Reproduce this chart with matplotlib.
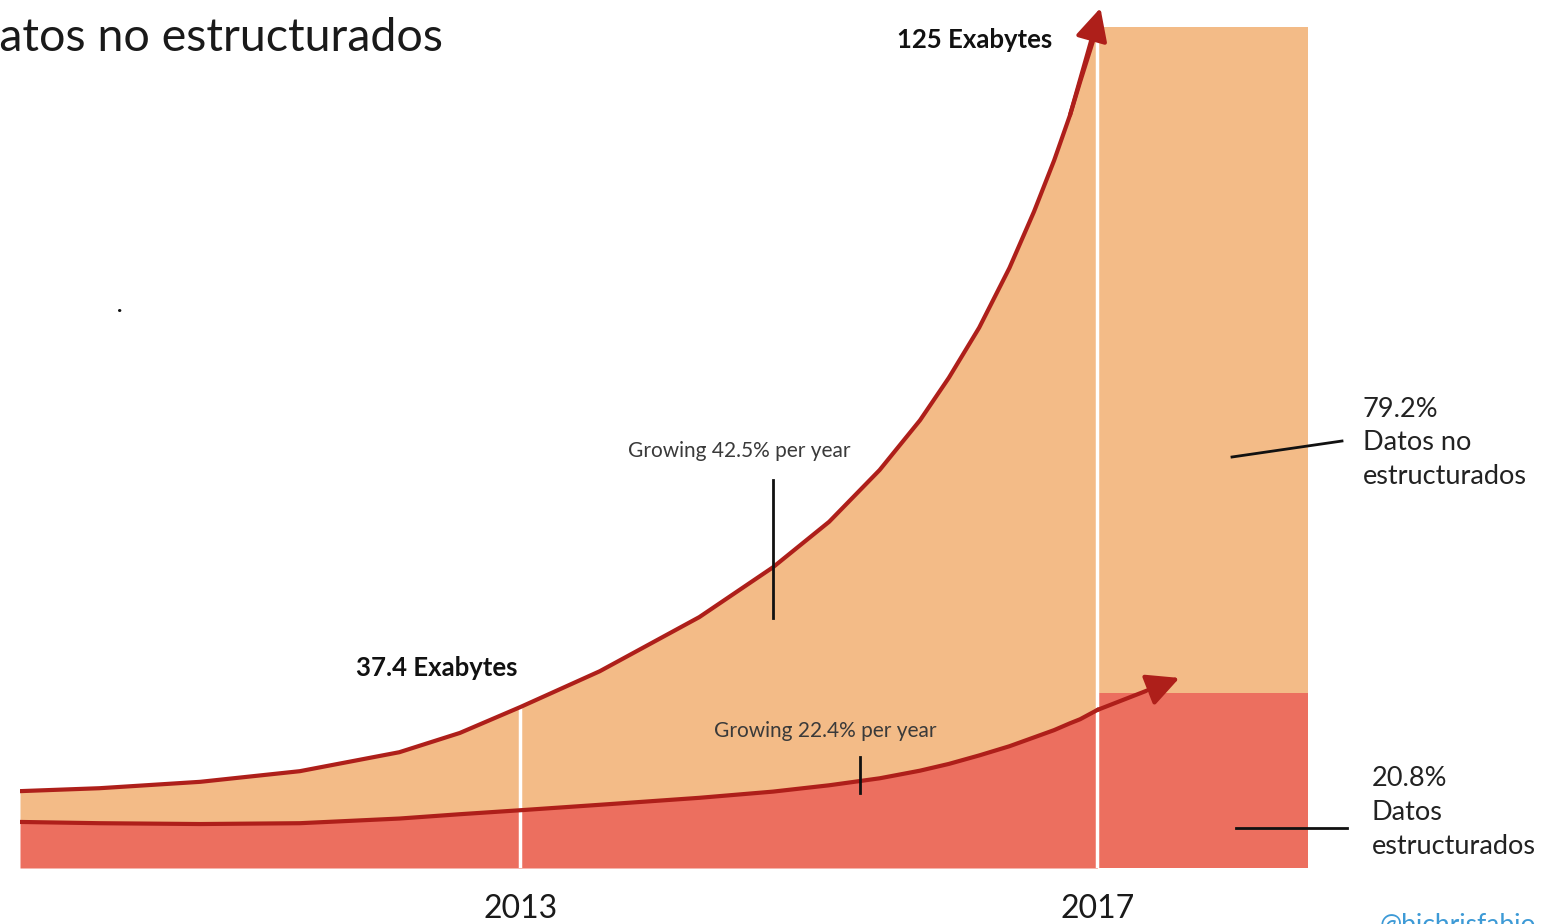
import numpy as np
import matplotlib
matplotlib.use("Agg")
import matplotlib.pyplot as plt
from matplotlib.scale import FuncScale
from matplotlib.transforms import offset_copy

plt.rcParams['font.family'] = ['Lato', 'DejaVu Sans']

# ---- data -------------------------------------------------------------
years = [2009.53, 2010.08, 2010.78, 2011.47, 2012.16, 2012.58, 2013.0, 2013.55,
         2014.24, 2014.75, 2015.14, 2015.49, 2015.77, 2015.97, 2016.18, 2016.39,
         2016.56, 2016.70, 2016.81, 2016.88, 2017.0]
# total data volume (Exabytes)
total_eb = [21.8, 22.4, 23.7, 25.8, 29.4, 32.9, 37.4, 43.3, 51.7, 59.0, 65.4,
            72.4, 78.9, 84.3, 90.5, 97.7, 104.3, 110.2, 115.3, 119.0, 125.0]
# structured part (Exabytes)
structured_eb = [15.0, 14.7, 14.5, 14.7, 15.8, 16.8, 17.7, 18.9, 20.4, 21.7, 23.0,
                 24.4, 25.9, 27.2, 28.8, 30.5, 32.1, 33.4, 34.6, 35.3, 36.9]
tick_years = [2013, 2017]
tick_labels = ["2013", "2017"]
share_year = 2017
share_labels = ["Datos estructurados", "Datos no estructurados"]
share_pct = [20.8, 79.2]

# ---- style ------------------------------------------------------------
C_UNSTR = "#F3BB87"
C_STR = "#EC6F5F"
C_CURVE = "#AE1F1A"
W, H, DPI = 1542, 924, 100

fig = plt.figure(figsize=(W / DPI, H / DPI), dpi=DPI)
fx = lambda px: px / W
fy = lambda py: 1 - py / H

ax_left, ax_right, ax_top, ax_bottom = 20, 1308, 27, 868
ax = fig.add_axes([fx(ax_left), fy(ax_bottom), (ax_right - ax_left) / W,
                   (ax_bottom - ax_top) / H])
ax2 = ax.twinx()
ax.set_zorder(2)
ax.patch.set_visible(False)
ax2.set_zorder(1)

# volume axis uses a power scale so the growth curve keeps its drawn shape
p = 1.37
ax.set_yscale(FuncScale(ax, (lambda v: np.power(np.clip(v, 0, None), p),
                             lambda v: np.power(np.clip(v, 0, None), 1 / p))))
ax.set_ylim(0, max(total_eb))
ax.set_xlim(years[0], 2018.46)
ax2.set_ylim(0, sum(share_pct))

yrs = np.array(years)
tot = np.array(total_eb)
st = np.array(structured_eb)

ax.fill_between(yrs, 0, st, color=C_STR, lw=0, zorder=1)
ax.fill_between(yrs, st, tot, color=C_UNSTR, lw=0, zorder=1)

# share bar for the final year
bottom = 0
for lab, val, col in zip(share_labels, share_pct, [C_STR, C_UNSTR]):
    ax2.bar(share_year, val, width=2018.46 - share_year, bottom=bottom,
            align='edge', color=col, lw=0)
    bottom += val

# white year markers
tot_at = [tot[np.argmin(np.abs(yrs - t))] for t in tick_years]
ax.vlines(tick_years, 0, tot_at, color="white", lw=2.5, zorder=2)

# growth curves with arrow heads
ax.plot(yrs, tot, color=C_CURVE, lw=3.0, solid_joinstyle='round', zorder=4)
ax.plot(yrs, st, color=C_CURVE, lw=3.0, solid_joinstyle='round', zorder=4)

arrow = dict(arrowstyle="-|>,head_length=1.1,head_width=0.55", color=C_CURVE,
             lw=3.0, mutation_scale=18, shrinkA=0, shrinkB=0)
tip_up = offset_copy(ax.transData, fig=fig, x=3, y=19, units='dots')
ax.annotate("", xy=(yrs[-1], tot[-1]), xycoords=tip_up,
            xytext=(yrs[-3], tot[-3]), textcoords='data',
            arrowprops=arrow, annotation_clip=False, zorder=5)
tip_lo = offset_copy(ax.transData, fig=fig, x=82, y=32, units='dots')
ax.annotate("", xy=(yrs[-1], st[-1]), xycoords=tip_lo,
            xytext=(yrs[-1], st[-1]), textcoords='data',
            arrowprops=arrow, annotation_clip=False, zorder=5)

for a in (ax, ax2):
    for s in a.spines.values():
        s.set_visible(False)
    a.set_yticks([])
ax.set_xticks(tick_years, tick_labels, fontsize=23, color="#1a1a1a")
ax.tick_params(axis='x', length=0, pad=19)

# ---- text -------------------------------------------------------------
fig.text(fx(443), fy(38), "Datos no estructurados", ha='right', va='center',
         fontsize=33.5, color="#1a1a1a")
fig.text(fx(1052), fy(40), "125 Exabytes", ha='right', va='center',
         fontsize=18.5, fontweight='bold', color="#111111")
fig.text(fx(517), fy(668), "37.4 Exabytes", ha='right', va='center',
         fontsize=18.5, fontweight='bold', color="#111111")
fig.text(fx(739), fy(451), "Growing 42.5% per year", ha='center', va='center',
         fontsize=15, color="#3a3a3a")
fig.text(fx(825), fy(731), "Growing 22.4% per year", ha='center', va='center',
         fontsize=15, color="#3a3a3a")
fig.text(fx(1363), fy(443), f"{share_pct[1]}%\nDatos no\nestructurados",
         ha='left', va='center', fontsize=19.5, color="#222222", linespacing=1.42)
fig.text(fx(1372), fy(813), f"{share_pct[0]}%\nDatos\nestructurados",
         ha='left', va='center', fontsize=19.5, color="#222222", linespacing=1.45)
fig.text(fx(120), fy(306), ".", ha='center', va='center', fontsize=16,
         fontweight='bold', color="#111111")
fig.text(fx(1380), fy(913), "@bichrisfabio", ha='left', va='top',
         fontsize=19, color="#3d9ad6")

# pointer lines
def seg(x0, y0, x1, y1, lw=2.0):
    fig.add_artist(plt.Line2D([fx(x0), fx(x1)], [fy(y0), fy(y1)],
                              transform=fig.transFigure, color="#111111",
                              lw=lw, zorder=6))

seg(773, 480, 773, 618)
seg(860, 757, 860, 793)
seg(1232, 457, 1342, 441)
seg(1236, 828, 1347, 828)

fig.savefig("out.png", dpi=DPI)
